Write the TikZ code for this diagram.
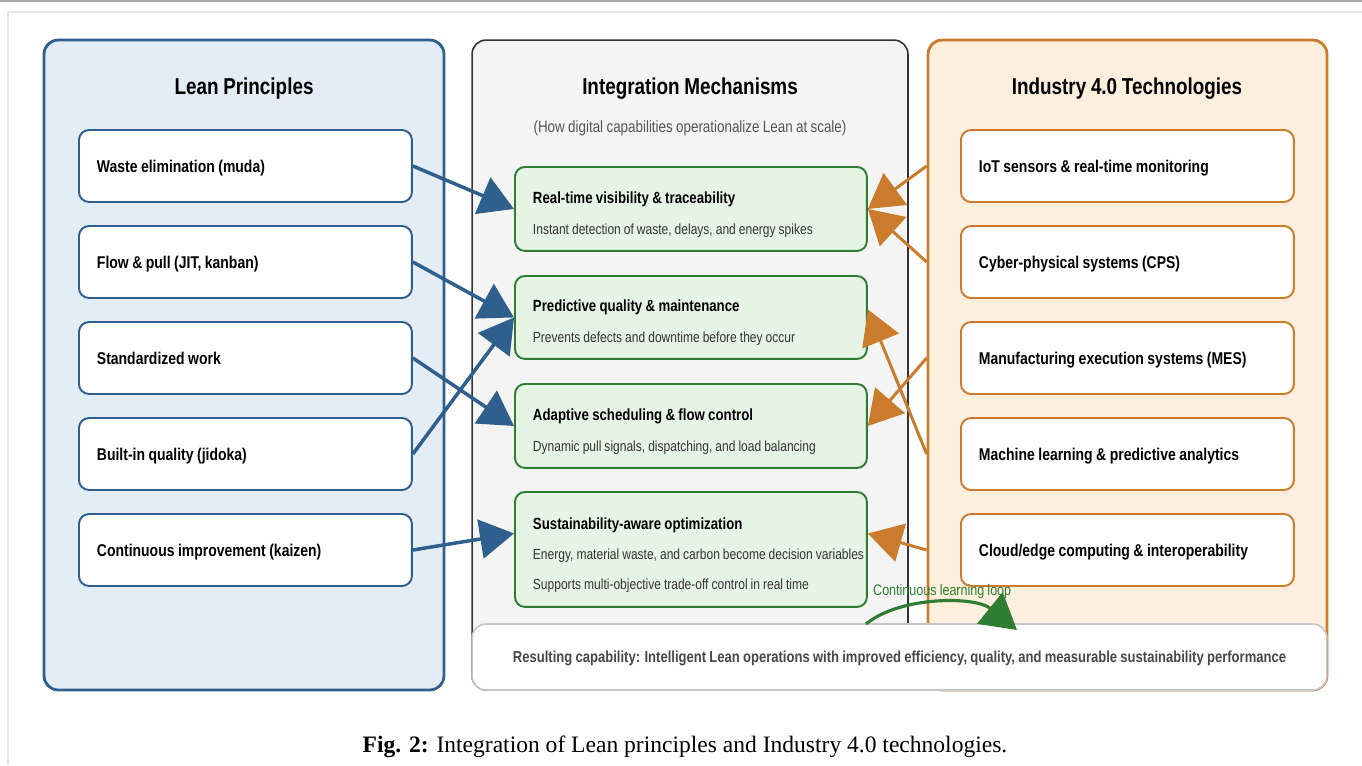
\documentclass[tikz,border=0pt]{standalone}
\usepackage{fontspec}
\setmainfont{Liberation Sans}[FakeStretch=0.82, WordSpace=0.9]
\newfontfamily\capfont{Liberation Serif}
\usetikzlibrary{arrows.meta}

\definecolor{leanblue}{HTML}{2F5F8C}
\definecolor{leanfill}{HTML}{E4ECF5}
\definecolor{intfill}{HTML}{F4F4F4}
\definecolor{intline}{HTML}{333333}
\definecolor{indorange}{HTML}{CB7B2C}
\definecolor{indfill}{HTML}{FDEFDE}
\definecolor{mechgreen}{HTML}{2E7D32}
\definecolor{mechfill}{HTML}{E6F4E6}
\definecolor{subgray}{HTML}{333333}
\definecolor{notegray}{HTML}{555555}

\tikzset{
	panel/.style={draw, rounded corners=0.28cm, minimum height=13cm, line width=1.6pt},
	itembox/.style={draw, fill=white, rounded corners=0.2cm, line width=1.1pt, text width=5.94cm, inner xsep=0.36cm, minimum height=1.44cm, text depth=0pt, align=flush left, anchor=west, font=\fontsize{9.7}{12}\selectfont\bfseries},
	mechbox/.style={draw=mechgreen, fill=mechfill, rounded corners=0.2cm, line width=1.1pt, text width=6.32cm, inner xsep=0.36cm, align=flush left, anchor=north west, font=\fontsize{8.35}{11}\selectfont\color{subgray}},
	paneltitle/.style={font=\fontsize{13.1}{15}\selectfont\bfseries},
	leanarrow/.style={draw=leanblue, line width=2pt, -{Triangle[length=0.68cm, width=0.78cm]}},
	indarrow/.style={draw=indorange, line width=1.7pt, -{Triangle[length=0.68cm, width=0.78cm]}},
}
\newcommand{\mechtitle}[1]{\rule{0pt}{13pt}{\fontsize{9.2}{11}\selectfont\bfseries\color{black}#1}}
\newcommand{\mechline}[1]{\mbox{#1}}

\begin{document}
\begin{tikzpicture}[x=0.02cm, y=-0.02cm]
	\useasboundingbox (0,0) rectangle (1362,765);

% cadre
	\draw[gray!70, line width=0.6pt] (0,1) -- (1362,1);
	\draw[gray!20, line width=0.8pt] (8,765) -- (8,12) -- (1362,12);

% colonnes
	\node[panel, draw=leanblue, fill=leanfill, minimum width=8cm] (lean) at (244,365) {};
	\node[panel, draw=intline, fill=intfill, minimum width=8.72cm, line width=0.9pt] (integ) at (690,365) {};
	\node[panel, draw=indorange, fill=indfill, minimum width=7.98cm] (ind) at (1127.5,365) {};

	\node[paneltitle] (leantitle) at (244,89) {Lean Principles};
	\node[paneltitle] (integtitle) at (690,89) {Integration Mechanisms};
	\node[font=\fontsize{9.3}{11}\selectfont, text=notegray] (integsub) at (690,128) {(How digital capabilities operationalize Lean at scale)};
	\node[paneltitle] (indtitle) at (1127,89) {Industry 4.0 Technologies};

% principes lean
	\foreach \txt [count=\i] in {Waste elimination (muda), {Flow \& pull (JIT, kanban)}, Standardized work, Built-in quality (jidoka), Continuous improvement (kaizen)}
		\node[itembox, draw=leanblue] (lp\i) at (78,{166+96*(\i-1)}) {\txt};

% technologies 4.0
	\foreach \txt [count=\i] in {IoT sensors \& real-time monitoring, Cyber-physical systems (CPS), Manufacturing execution systems (MES), Machine learning \& predictive analytics, Cloud/edge computing \& interoperability}
		\node[itembox, draw=indorange] (it\i) at (960,{166+96*(\i-1)}) {\txt};

% mecanismes
	\node[mechbox, minimum height=1.68cm] (im1) at (514,166) {\mechtitle{Real-time visibility \& traceability}\\[6.6pt]\mechline{Instant detection of waste, delays, and energy spikes}};
	\node[mechbox, minimum height=1.66cm] (im2) at (514,275) {\mechtitle{Predictive quality \& maintenance}\\[6.6pt]\mechline{Prevents defects and downtime before they occur}};
	\node[mechbox, minimum height=1.68cm] (im3) at (514,383) {\mechtitle{Adaptive scheduling \& flow control}\\[6.6pt]\mechline{Dynamic pull signals, dispatching, and load balancing}};
	\node[mechbox, minimum height=2.3cm] (im4) at (514,491) {\mechtitle{Sustainability-aware optimization}\\[6pt]\mechline{Energy, material waste, and carbon become decision variables}\\[6pt]\mechline{Supports multi-objective trade-off control in real time}};

% resultat
	\node[draw=gray!45, fill=white, rounded corners=0.28cm, line width=0.9pt, minimum width=17.1cm, minimum height=1.32cm, text depth=0pt, font=\fontsize{9.05}{11}\selectfont\bfseries, text=subgray!90] (res) at (899.5,657) {Resulting capability: Intelligent Lean operations with improved efficiency, quality, and measurable sustainability performance};

% fleches lean -> mecanismes
	\draw[leanarrow] (lp1.east) -- (im1.west);
	\draw[leanarrow] (lp2.east) -- (im2.west);
	\draw[leanarrow] (lp3.east) -- (im3.west);
	\draw[leanarrow] (lp4.east) -- (im2.west);
	\draw[leanarrow] (lp5.east) -- ([yshift=0.32cm]im4.west);

% fleches 4.0 -> mecanismes
	\draw[indarrow] (it1.west -| ind.west) -- (im1.east);
	\draw[indarrow] (it2.west -| ind.west) -- (im1.east);
	\draw[indarrow] (it3.west -| ind.west) -- (im3.east);
	\draw[indarrow] (it4.west -| ind.west) -- ([yshift=0.16cm]im2.east);
	\draw[indarrow] (it5.west -| ind.west) -- ([yshift=0.32cm]im4.east);

% boucle
	\node[anchor=west, font=\fontsize{8.7}{10}\selectfont, text=mechgreen] (looplbl) at (867,592) {Continuous learning loop};
	\coordinate (loopa) at (866,624);
	\coordinate (loopb) at (1017,630);
	\draw[draw=mechgreen, line width=1.8pt, -{Triangle[length=0.7cm, width=0.8cm]}] (loopa) .. controls (900,596) and (975,596) .. (loopb);

% legende
	\node[font=\capfont\fontsize{13.4}{15}\selectfont] (cap) at (685,747) {\textbf{Fig. 2:} Integration of Lean principles and Industry 4.0 technologies.};

\end{tikzpicture}
\end{document}
